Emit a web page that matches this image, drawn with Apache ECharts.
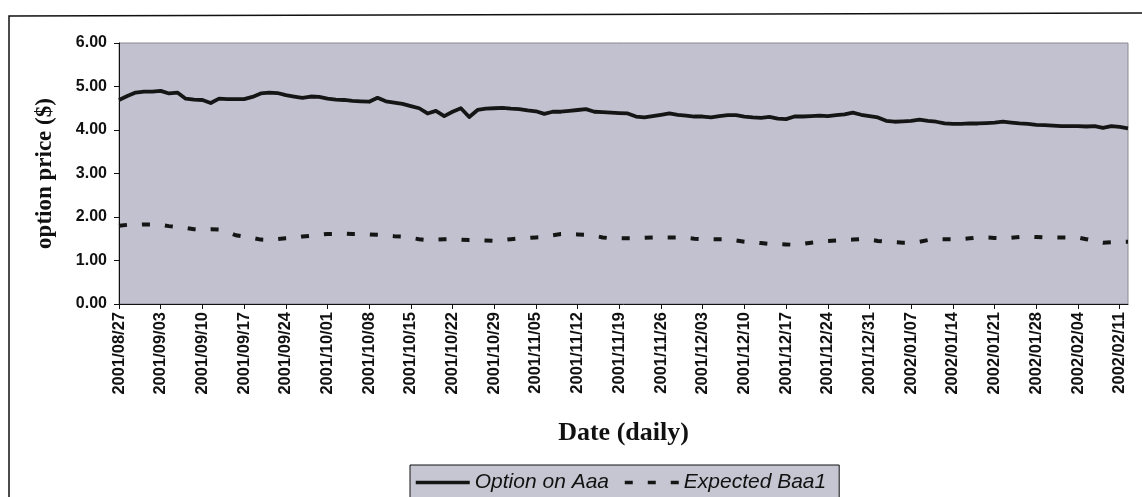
<!DOCTYPE html>
<html>
<head>
<meta charset="utf-8">
<script src="https://cdn.jsdelivr.net/npm/echarts@6/dist/echarts.min.js"></script>
<style>
html,body{margin:0;padding:0;background:#fff;}
#chart{width:1142px;height:497px;}
</style>
</head>
<body>
<div id="chart"></div>
<script>
const dates = [
 '2001/08/27','2001/08/28','2001/08/29','2001/08/30','2001/08/31',
 '2001/09/03','2001/09/04','2001/09/05','2001/09/06','2001/09/07',
 '2001/09/10','2001/09/11','2001/09/12','2001/09/13','2001/09/14',
 '2001/09/17','2001/09/18','2001/09/19','2001/09/20','2001/09/21',
 '2001/09/24','2001/09/25','2001/09/26','2001/09/27','2001/09/28',
 '2001/10/01','2001/10/02','2001/10/03','2001/10/04','2001/10/05',
 '2001/10/08','2001/10/09','2001/10/10','2001/10/11','2001/10/12',
 '2001/10/15','2001/10/16','2001/10/17','2001/10/18','2001/10/19',
 '2001/10/22','2001/10/23','2001/10/24','2001/10/25','2001/10/26',
 '2001/10/29','2001/10/30','2001/10/31','2001/11/01','2001/11/02',
 '2001/11/05','2001/11/06','2001/11/07','2001/11/08','2001/11/09',
 '2001/11/12','2001/11/13','2001/11/14','2001/11/15','2001/11/16',
 '2001/11/19','2001/11/20','2001/11/21','2001/11/22','2001/11/23',
 '2001/11/26','2001/11/27','2001/11/28','2001/11/29','2001/11/30',
 '2001/12/03','2001/12/04','2001/12/05','2001/12/06','2001/12/07',
 '2001/12/10','2001/12/11','2001/12/12','2001/12/13','2001/12/14',
 '2001/12/17','2001/12/18','2001/12/19','2001/12/20','2001/12/21',
 '2001/12/24','2001/12/25','2001/12/26','2001/12/27','2001/12/28',
 '2001/12/31','2002/01/01','2002/01/02','2002/01/03','2002/01/04',
 '2002/01/07','2002/01/08','2002/01/09','2002/01/10','2002/01/11',
 '2002/01/14','2002/01/15','2002/01/16','2002/01/17','2002/01/18',
 '2002/01/21','2002/01/22','2002/01/23','2002/01/24','2002/01/25',
 '2002/01/28','2002/01/29','2002/01/30','2002/01/31','2002/02/01',
 '2002/02/04','2002/02/05','2002/02/06','2002/02/07','2002/02/08',
 '2002/02/11','2002/02/12'
];

const optionOnAaa = [
 4.69,4.78,4.86,4.88,4.88, 4.90,4.84,4.86,4.72,4.70,
 4.69,4.62,4.72,4.71,4.71, 4.71,4.76,4.84,4.86,4.85,
 4.80,4.77,4.74,4.77,4.76, 4.72,4.70,4.69,4.67,4.66,
 4.65,4.74,4.66,4.63,4.60, 4.55,4.50,4.38,4.44,4.32,
 4.42,4.50,4.30,4.46,4.49, 4.50,4.51,4.49,4.48,4.45,
 4.43,4.37,4.42,4.42,4.44, 4.46,4.48,4.42,4.41,4.40,
 4.39,4.38,4.31,4.29,4.32, 4.35,4.38,4.35,4.33,4.31,
 4.31,4.29,4.32,4.34,4.34, 4.31,4.29,4.28,4.30,4.26,
 4.25,4.31,4.31,4.32,4.33, 4.32,4.34,4.36,4.40,4.35,
 4.32,4.29,4.21,4.19,4.20, 4.21,4.24,4.21,4.19,4.15,
 4.14,4.14,4.15,4.15,4.16, 4.17,4.19,4.17,4.15,4.14,
 4.12,4.11,4.10,4.09,4.09, 4.09,4.08,4.09,4.05,4.09,
 4.07,4.04
];

const expectedBaa1 = [
 1.80,1.82,1.82,1.83,1.83, 1.82,1.79,1.77,1.75,1.72,
 1.71,1.72,1.71,1.66,1.58, 1.55,1.52,1.48,1.47,1.49,
 1.51,1.52,1.55,1.57,1.59, 1.61,1.61,1.62,1.61,1.61,
 1.60,1.59,1.58,1.56,1.55, 1.52,1.49,1.47,1.48,1.49,
 1.49,1.48,1.47,1.47,1.46, 1.45,1.47,1.49,1.51,1.52,
 1.53,1.54,1.58,1.61,1.61, 1.60,1.59,1.57,1.53,1.51,
 1.51,1.51,1.51,1.52,1.53, 1.53,1.53,1.53,1.52,1.50,
 1.49,1.49,1.49,1.49,1.46, 1.43,1.42,1.40,1.38,1.38,
 1.37,1.36,1.38,1.41,1.43, 1.45,1.46,1.47,1.48,1.49,
 1.48,1.45,1.43,1.42,1.41, 1.41,1.43,1.47,1.49,1.49,
 1.49,1.49,1.51,1.53,1.53, 1.52,1.51,1.52,1.54,1.55,
 1.54,1.53,1.53,1.53,1.53, 1.53,1.49,1.45,1.41,1.42,
 1.43,1.43
];

const seriesNames = ['Option on Aaa', 'Expected Baa1'];
const yTicks = { min: 0, max: 6, interval: 1 };
const xAxisTitle = 'Date (daily)';
const yAxisTitle = 'option price ($)';

const chart = echarts.init(document.getElementById('chart'), null, { renderer: 'canvas' });

chart.setOption({
  animation: false,
  backgroundColor: '#ffffff',
  graphic: [
    {
      type: 'polyline',
      shape: { points: [[9, 497], [9, 16], [1142, 13]] },
      style: { stroke: '#111', lineWidth: 1.5, fill: null },
      silent: true
    }
  ],
  grid: {
    left: 119, top: 43, right: 14, height: 261,
    show: true,
    backgroundColor: '#c1c1cf',
    borderColor: '#8a8a94',
    borderWidth: 1
  },
  legend: {
    left: 410,
    top: 465,
    orient: 'horizontal',
    padding: [7, 13, 12, 4],
    itemGap: 14,
    itemWidth: 54,
    itemHeight: 14,
    backgroundColor: '#c6c6d2',
    borderColor: '#111',
    borderWidth: 1,
    itemStyle: { opacity: 0 },
    lineStyle: { width: 3.5 },
    textStyle: {
      fontFamily: 'Liberation Sans, Arial, sans-serif',
      fontStyle: 'italic',
      fontSize: 21,
      color: '#111'
    },
    data: seriesNames
  },
  xAxis: {
    type: 'category',
    data: dates,
    boundaryGap: false,
    name: xAxisTitle,
    nameLocation: 'middle',
    nameGap: 116,
    nameTextStyle: {
      fontFamily: 'Liberation Serif, Times New Roman, serif',
      fontWeight: 'bold',
      fontSize: 26,
      color: '#111'
    },
    axisLine: { show: true, lineStyle: { color: '#111', width: 1 } },
    axisTick: { show: true, interval: 4, length: 5, lineStyle: { color: '#111' } },
    axisLabel: {
      interval: 4,
      rotate: 90,
      margin: 8,
      fontFamily: 'Liberation Sans, Arial, sans-serif',
      fontWeight: 'bold',
      fontSize: 16.5,
      color: '#111'
    },
    splitLine: { show: false }
  },
  yAxis: {
    type: 'value',
    min: yTicks.min,
    max: yTicks.max,
    interval: yTicks.interval,
    name: yAxisTitle,
    nameLocation: 'middle',
    nameGap: 62,
    nameTextStyle: {
      fontFamily: 'Liberation Serif, Times New Roman, serif',
      fontWeight: 'bold',
      fontSize: 23,
      color: '#111'
    },
    axisLine: { show: true, lineStyle: { color: '#111', width: 1 } },
    axisTick: { show: true, length: 5, lineStyle: { color: '#111' } },
    axisLabel: {
      margin: 12,
      formatter: v => v.toFixed(2),
      fontFamily: 'Liberation Sans, Arial, sans-serif',
      fontWeight: 'bold',
      fontSize: 16,
      color: '#111'
    },
    splitLine: { show: false }
  },
  series: [
    {
      name: seriesNames[0],
      type: 'line',
      data: optionOnAaa,
      showSymbol: false,
      symbol: 'none',
      lineStyle: { color: '#151515', width: 3.8, join: 'round' },
      itemStyle: { color: '#151515' }
    },
    {
      name: seriesNames[1],
      type: 'line',
      data: expectedBaa1,
      showSymbol: false,
      symbol: 'none',
      lineStyle: { color: '#151515', width: 4, type: [8, 15], cap: 'butt' },
      itemStyle: { color: '#151515' }
    }
  ]
});
</script>
</body>
</html>
